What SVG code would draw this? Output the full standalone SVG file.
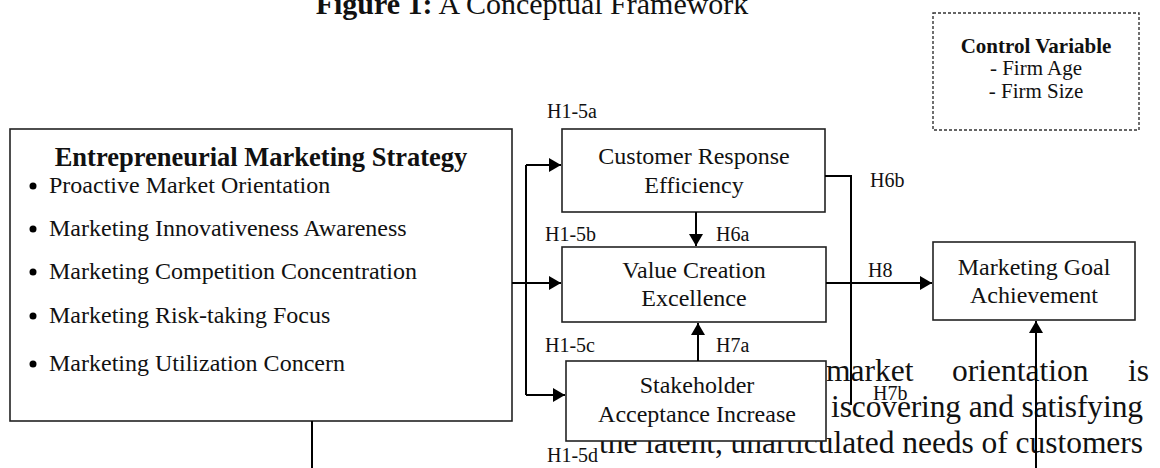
<svg xmlns="http://www.w3.org/2000/svg" width="1160" height="468" viewBox="0 0 1160 468">
<defs>
<marker id="ah" markerUnits="userSpaceOnUse" markerWidth="13" markerHeight="14" refX="12" refY="7" orient="auto">
<path d="M0,0 L12,7 L0,14 z" fill="#000"/>
</marker>
<style>
text{font-family:"Liberation Serif","Times New Roman",serif;fill:#111}
.box{fill:#fff;stroke:#222;stroke-width:1.6}
.dash{fill:#fff;stroke:#333;stroke-width:1.4;stroke-dasharray:3 2}
.c{fill:none;stroke:#000;stroke-width:2}
.a{marker-end:url(#ah)}
.lbl{font-size:20px}
.nt{font-size:24px;text-anchor:middle}
.bl{font-size:24px}
.bg{font-size:31.5px}
</style>
</defs>
<rect width="1160" height="468" fill="#fff"/>
<text x="532" y="14" style="font-size:30px;text-anchor:middle"><tspan font-weight="bold">Figure 1:</tspan> A Conceptual Framework</text>
<g id="bleed">
<text class="bg" x="826" y="381">market</text>
<text class="bg" x="952" y="381">orientation</text>
<text class="bg" x="1128" y="381">is</text>
<text class="bg" x="831" y="417" textLength="312" lengthAdjust="spacing">iscovering and satisfying</text>
<text class="bg" x="599" y="453" textLength="544" lengthAdjust="spacing">the latent, unarticulated needs of customers</text>
</g>
<g id="control">
<rect class="dash" x="933" y="13" width="206" height="117"/>
<text x="1036" y="53" style="font-size:21px;font-weight:bold;text-anchor:middle">Control Variable</text>
<text x="1036" y="75" style="font-size:21px;text-anchor:middle">- Firm Age</text>
<text x="1036" y="98" style="font-size:21px;text-anchor:middle">- Firm Size</text>
</g>
<g id="ems">
<rect class="box" x="10" y="129" width="502" height="292"/>
<text x="261" y="166" style="font-size:26.5px;font-weight:bold;text-anchor:middle">Entrepreneurial Marketing Strategy</text>
<circle cx="33" cy="186" r="3.5" fill="#000"/><text class="bl" x="49" y="193">Proactive Market Orientation</text>
<circle cx="33" cy="229" r="3.5" fill="#000"/><text class="bl" x="49" y="236">Marketing Innovativeness Awareness</text>
<circle cx="33" cy="272" r="3.5" fill="#000"/><text class="bl" x="49" y="279">Marketing Competition Concentration</text>
<circle cx="33" cy="316" r="3.5" fill="#000"/><text class="bl" x="49" y="323">Marketing Risk-taking Focus</text>
<circle cx="33" cy="364" r="3.5" fill="#000"/><text class="bl" x="49" y="371">Marketing Utilization Concern</text>
</g>
<g id="cre">
<rect class="box" x="562" y="129" width="263" height="83"/>
<text class="nt" x="694" y="164">Customer Response</text>
<text class="nt" x="694" y="193">Efficiency</text>
</g>
<g id="vce">
<rect class="box" x="562" y="247" width="264" height="75"/>
<text class="nt" x="694" y="278">Value Creation</text>
<text class="nt" x="694" y="306">Excellence</text>
</g>
<g id="sai">
<rect class="box" x="566" y="361" width="260" height="80"/>
<text class="nt" x="697" y="393">Stakeholder</text>
<text class="nt" x="697" y="422">Acceptance Increase</text>
</g>
<g id="mga">
<rect class="box" x="933" y="242" width="202" height="78"/>
<text class="nt" x="1034" y="275">Marketing Goal</text>
<text class="nt" x="1034" y="303">Achievement</text>
</g>
<g id="connectors">
<path class="c" d="M526,165 V395"/>
<path class="c a" d="M526,165 H561"/>
<path class="c a" d="M512,283 H561"/>
<path class="c a" d="M526,395 H565"/>
<path class="c a" d="M696,212 V246"/>
<path class="c a" d="M698,361 V323"/>
<path class="c" d="M825,176 H851 V405"/>
<path class="c a" d="M826,283 H932"/>
<path class="c a" d="M1036,468 V321"/>
<path class="c" d="M312,421 V468"/>
</g>
<g id="labels">
<text class="lbl" x="547" y="118">H1-5a</text>
<text class="lbl" x="545" y="241">H1-5b</text>
<text class="lbl" x="716" y="241">H6a</text>
<text class="lbl" x="545" y="352">H1-5c</text>
<text class="lbl" x="716" y="352">H7a</text>
<text class="lbl" x="547" y="462">H1-5d</text>
<text class="lbl" x="870" y="187">H6b</text>
<text class="lbl" x="868" y="277">H8</text>
<text class="lbl" x="873" y="400">H7b</text>
</g>
</svg>
